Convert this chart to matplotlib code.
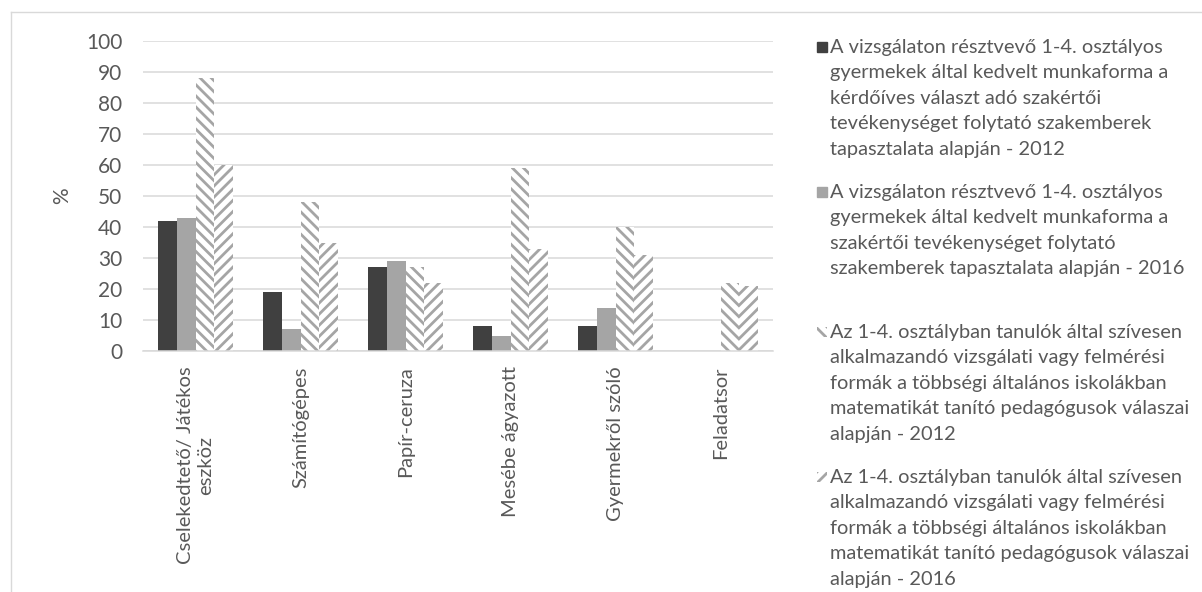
import matplotlib
matplotlib.use("Agg")
import matplotlib.pyplot as plt
from matplotlib.patches import Rectangle
from matplotlib.lines import Line2D
import numpy as np

plt.rcParams.update({
    "font.family": ["Lato", "DejaVu Sans"],
    "font.size": 14.4,
    "hatch.linewidth": 2.0,
})

W, H = 1202, 592
TXT = "#595959"
GRID = "#d9d9d9"

categories = ["Cselekedtető/ Játékos\neszköz", "Számítógépes", "Papír-ceruza",
              "Mesébe ágyazott", "Gyermekről szóló", "Feladatsor"]

kids_2012 = [42, 19, 27, 8, 8, 0]
kids_2016 = [43, 7, 29, 5, 14, 0]
teachers_2012 = [88, 48, 27, 59, 40, 22]
teachers_2016 = [60, 35, 22, 33, 31, 21]

series_labels = [
    "A vizsgálaton résztvevő 1-4. osztályos\ngyermekek által kedvelt munkaforma a\n"
    "kérdőíves választ adó szakértői\ntevékenységet folytató szakemberek\n"
    "tapasztalata alapján - 2012",
    "A vizsgálaton résztvevő 1-4. osztályos\ngyermekek által kedvelt munkaforma a\n"
    "szakértői tevékenységet folytató\nszakemberek tapasztalata alapján - 2016",
    "Az 1-4. osztályban tanulók által szívesen\nalkalmazandó vizsgálati vagy felmérési\n"
    "formák a többségi általános iskolákban\nmatematikát tanító pedagógusok válaszai\n"
    "alapján - 2012",
    "Az 1-4. osztályban tanulók által szívesen\nalkalmazandó vizsgálati vagy felmérési\n"
    "formák a többségi általános iskolákban\nmatematikát tanító pedagógusok válaszai\n"
    "alapján - 2016",
]


def fx(px):
    return px / W


def fy(py):
    return 1 - py / H


fig = plt.figure(figsize=(W / 100, H / 100), dpi=100, facecolor="white")

# chart-area frame (only top and left edges fall inside the canvas)
fig.add_artist(Line2D([fx(11), 1.0], [fy(12), fy(12)], color=GRID, lw=1.0))
fig.add_artist(Line2D([fx(11), fx(11)], [fy(12), 0.0], color=GRID, lw=1.0))

ax = fig.add_axes([fx(143), fy(351), fx(773) - fx(143), fy(41) - fy(351)])

styles = [
    dict(color="#404040"),
    dict(color="#a5a5a5"),
    dict(facecolor="white", edgecolor="#a5a5a5", hatch="\\\\\\", linewidth=0),
    dict(facecolor="white", edgecolor="#a5a5a5", hatch="///", linewidth=0),
]
data = [kids_2012, kids_2016, teachers_2012, teachers_2016]

x = np.arange(len(categories))
w = 0.18
for i, (vals, st) in enumerate(zip(data, styles)):
    ax.bar(x + (i - 1.5) * w, vals, w, **st)

ax.set_xlim(-0.5, len(categories) - 0.5)
ax.set_ylim(0, 100)
ax.set_yticks(range(0, 101, 10))
ax.yaxis.grid(True, color=GRID, lw=1.1)
ax.set_axisbelow(True)
for s in ("top", "right", "left"):
    ax.spines[s].set_visible(False)
ax.spines["bottom"].set_color(GRID)
ax.spines["bottom"].set_linewidth(1.1)
ax.tick_params(axis="y", length=0, pad=15, labelcolor=TXT, labelsize=15)
ax.tick_params(axis="x", length=0, pad=11, labelcolor=TXT, labelsize=14.5)
ax.set_xticks(x)
ax.set_xticklabels(categories, rotation=90, va="top", ha="center",
                   multialignment="center")

fig.text(fx(62), fy(196), "%", rotation=90, ha="center", va="center",
         color=TXT, fontsize=15)

# legend, drawn by hand so the wrapped lines sit where they should
first_line = [47, 192, 332, 477]
step = 25.4
for lab, y0, st in zip(series_labels, first_line, styles):
    fig.add_artist(Rectangle((fx(817), fy(y0 + 5)), 10 / W, 10 / H,
                             transform=fig.transFigure, **st))
    for k, line in enumerate(lab.split("\n")):
        fig.text(fx(830), fy(y0 + k * step + 6), line, ha="left",
                 va="baseline", color=TXT)

fig.savefig("out.png", dpi=100, facecolor="white")
